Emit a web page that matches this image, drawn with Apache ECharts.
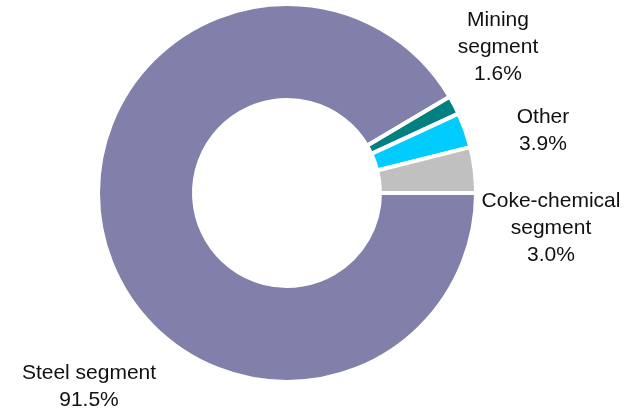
<!DOCTYPE html>
<html>
<head>
<meta charset="utf-8">
<script src="https://cdn.jsdelivr.net/npm/echarts@6/dist/echarts.min.js"></script>
<style>
  html, body { margin: 0; padding: 0; background: #ffffff; }
  #chart { width: 633px; height: 414px; }
</style>
</head>
<body>
<div id="chart"></div>
<script>
// Segment shares of the group, in percent (clockwise from 3 o'clock)
const segments = ['Steel segment', 'Mining\nsegment', 'Coke-chemical\nsegment', 'Other'];
const shares = [91.5, 1.6, 3.0, 3.9];
const colors = ['#8080aa', '#008080', '#00ccff', '#c0c0c0'];

// Where each segment's caption sits on the canvas
const labelSpots = [
  [89, 387],
  [498, 47],
  [551, 228],
  [543, 131]
];

const chart = echarts.init(document.getElementById('chart'), null, { renderer: 'canvas' });

chart.setOption({
  backgroundColor: '#ffffff',
  animation: false,
  series: [{
    type: 'pie',
    center: [287, 193],
    radius: [93, 189],
    startAngle: 0,
    clockwise: true,
    avoidLabelOverlap: false,
    itemStyle: { borderColor: '#ffffff', borderWidth: 4 },
    label: {
      show: true,
      position: 'outside',
      formatter: p => p.name + '\n' + p.value.toFixed(1) + '%',
      fontFamily: 'Liberation Sans, Arial, sans-serif',
      fontSize: 21,
      lineHeight: 27,
      color: '#111111',
      align: 'center'
    },
    labelLine: { show: false },
    labelLayout: params => ({
      x: labelSpots[params.dataIndex][0],
      y: labelSpots[params.dataIndex][1],
      align: 'center',
      verticalAlign: 'middle'
    }),
    data: segments.map((name, i) => ({
      name: name,
      value: shares[i],
      itemStyle: { color: colors[i] }
    }))
  }]
});
</script>
</body>
</html>
